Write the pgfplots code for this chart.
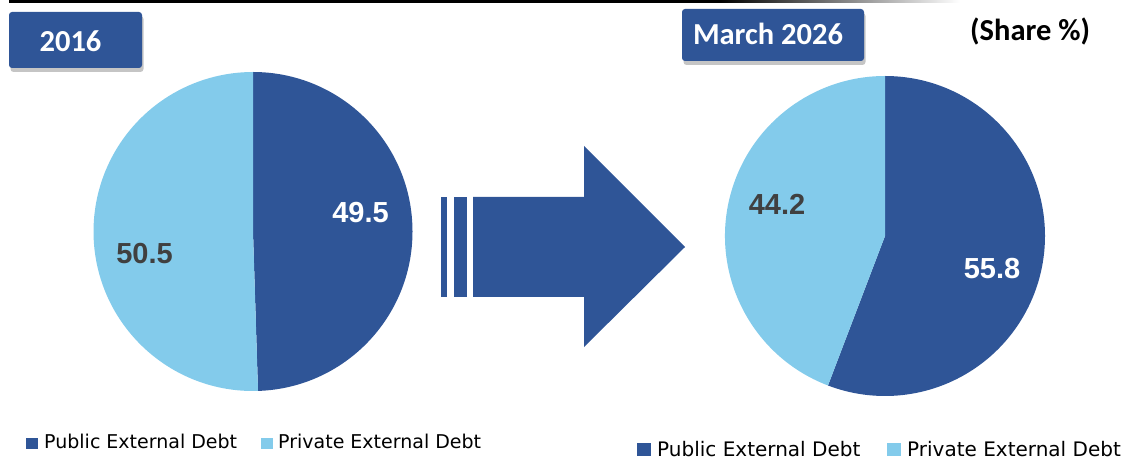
\documentclass[border=0pt]{standalone}
\usepackage{pgfplots}
\pgfplotsset{compat=1.18}
\usepackage{pgfplotstable}
\usepackage{fontspec}
\setmainfont{Liberation Sans}
\newfontfamily\carlito{Carlito}
\newfontfamily\dejavu{DejaVu Sans}
\usetikzlibrary{shadows}
\definecolor{dblue}{HTML}{2F5597}
\definecolor{lblue}{HTML}{83CBEB}
\definecolor{dgray}{HTML}{404040}

\pgfplotstableread{
year public private
2016 49.5 50.5
2026 55.8 44.2
}\piedata
\pgfplotstablegetelem{0}{public}\of\piedata \let\pubA\pgfplotsretval
\pgfplotstablegetelem{0}{private}\of\piedata \let\priA\pgfplotsretval
\pgfplotstablegetelem{1}{public}\of\piedata \let\pubB\pgfplotsretval
\pgfplotstablegetelem{1}{private}\of\piedata \let\priB\pgfplotsretval
\pgfmathsetmacro{\angA}{90-3.6*\pubA}
\pgfmathsetmacro{\angB}{90-3.6*\pubB}

\begin{document}
\begin{tikzpicture}
\begin{axis}[
  at={(0,0)}, anchor=south west,
  scale only axis, width=1134pt, height=462pt,
  xmin=0, xmax=1134, ymin=0, ymax=462, y dir=reverse,
  hide axis, clip=false]
% top rule
\draw[black, line width=2.5pt] (axis cs:9,1.5) -- (axis cs:720,1.5);
\shade[left color=black, right color=white] (axis cs:720,0.25) rectangle (axis cs:960,2.75);
% pie 2016
\fill[dblue] (axis cs:253,231.5) -- +(90:159.5pt) arc[start angle=90, end angle=\angA, radius=159.5pt] -- cycle;
\fill[lblue] (axis cs:253,231.5) -- +(\angA:159.5pt) arc[start angle=\angA, end angle=-270, radius=159.5pt] -- cycle;
% pie 2026
\fill[dblue] (axis cs:885,236) -- +(90:160pt) arc[start angle=90, end angle=\angB, radius=160pt] -- cycle;
\fill[lblue] (axis cs:885,236) -- +(\angB:160pt) arc[start angle=\angB, end angle=-270, radius=160pt] -- cycle;
% labels
\node[anchor=base, text=white, font=\bfseries\fontsize{29}{34}\selectfont, inner sep=0pt] at (axis cs:360.5,223) {\pubA};
\node[anchor=base, text=dgray, font=\bfseries\fontsize{29}{34}\selectfont, inner sep=0pt] at (axis cs:144.5,264) {\priA};
\node[anchor=base, text=white, font=\bfseries\fontsize{29}{34}\selectfont, inner sep=0pt] at (axis cs:992,279) {\pubB};
\node[anchor=base, text=dgray, font=\bfseries\fontsize{29}{34}\selectfont, inner sep=0pt] at (axis cs:777,215) {\priB};
% arrow
\fill[dblue] (axis cs:441,197) rectangle (axis cs:447,297);
\fill[dblue] (axis cs:454,197) rectangle (axis cs:467,297);
\fill[dblue] (axis cs:473,197) -- (axis cs:584,197) -- (axis cs:584,146) -- (axis cs:685,247) -- (axis cs:584,347) -- (axis cs:584,297) -- (axis cs:473,297) -- cycle;
% title boxes
\fill[dblue, rounded corners=3pt, drop shadow={shadow xshift=1.5pt, shadow yshift=-4pt, fill=black!45, opacity=0.5}] (axis cs:9,12) rectangle (axis cs:142,68);
\node[anchor=base, text=white, font=\carlito\bfseries\fontsize{30.5}{36}\selectfont, inner sep=0pt] at (axis cs:70.5,52) {2016};
\fill[dblue, rounded corners=3pt, drop shadow={shadow xshift=1.5pt, shadow yshift=-4pt, fill=black!45, opacity=0.5}] (axis cs:682,9) rectangle (axis cs:864,61);
\node[anchor=base, text=white, font=\carlito\bfseries\fontsize{30.5}{36}\selectfont, inner sep=0pt] at (axis cs:768,45) {March 2026};
\node[anchor=base west, text=black, font=\carlito\bfseries\fontsize{30.5}{36}\selectfont, inner sep=0pt] at (axis cs:970,41) {(Share \%)};
% legend 1
\fill[dblue] (axis cs:26,438) rectangle (axis cs:38,449);
\node[anchor=base west, font=\dejavu\fontsize{19}{23}\selectfont, inner sep=0pt] at (axis cs:44,448) {Public External Debt};
\fill[lblue] (axis cs:261,438) rectangle (axis cs:273,449);
\node[anchor=base west, font=\dejavu\fontsize{19}{23}\selectfont, inner sep=0pt] at (axis cs:278,448) {Private External Debt};
% legend 2
\fill[dblue] (axis cs:637,443) rectangle (axis cs:651,456);
\node[anchor=base west, font=\dejavu\fontsize{20}{24}\selectfont, inner sep=0pt] at (axis cs:657,456) {Public External Debt};
\fill[lblue] (axis cs:887,443) rectangle (axis cs:901,456);
\node[anchor=base west, font=\dejavu\fontsize{20}{24}\selectfont, inner sep=0pt] at (axis cs:907,456) {Private External Debt};
\end{axis}
\pgfresetboundingbox
\path (0,0) rectangle (1134pt,462pt);
\end{tikzpicture}
\end{document}
